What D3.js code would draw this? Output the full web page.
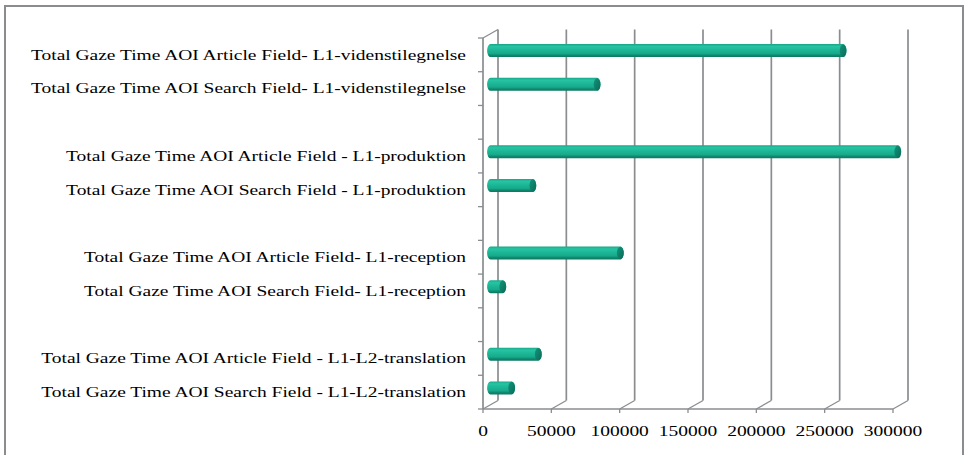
<!DOCTYPE html>
<html>
<head>
<meta charset="utf-8">
<script src="https://cdn.jsdelivr.net/npm/d3@7"></script>
<style>
  body { margin: 0; background: #fff; }
  svg { display: block; }
  text { font-family: "Liberation Serif", "Times New Roman", serif; fill: #000; }
</style>
</head>
<body>
<svg id="chart"></svg>
<script>
// categories top to bottom, blank entries are the spacer rows between groups
const categories = [
    'Total Gaze Time AOI Article Field- L1-videnstilegnelse',
    'Total Gaze Time AOI Search Field- L1-videnstilegnelse',
    '',
    'Total Gaze Time AOI Article Field - L1-produktion',
    'Total Gaze Time AOI Search Field - L1-produktion',
    ' ',
    'Total Gaze Time AOI Article Field- L1-reception',
    'Total Gaze Time AOI Search Field- L1-reception',
    '  ',
    'Total Gaze Time AOI Article Field - L1-L2-translation',
    'Total Gaze Time AOI Search Field - L1-L2-translation'
];
const values = [258000, 78000, null, 298000, 31000, null, 95000, 9000, null, 35000, 15500];
const xTicks = [0, 50000, 100000, 150000, 200000, 250000, 300000];

const config = {
    width: 966,
    height: 455,
    plot: { left: 483, right: 893, top: 38, bottom: 409 },
    depth: { dx: 15, dy: -8.5 },
    barHeight: 13,
    capRx: 3.4,
    fontSize: 14,
    textStretch: 1.39,   // the original text is rendered wide
    gridColour: '#8a8d90',
    frameColour: '#8a8d90'
};

const svg = d3.select('#chart')
    .attr('width', config.width)
    .attr('height', config.height);

const dx = config.depth.dx, dy = config.depth.dy;

const xScale = d3.scaleLinear()
    .domain([0, 300000])
    .range([config.plot.left, config.plot.right]);

const yScale = d3.scaleBand()
    .domain(categories)
    .range([config.plot.top, config.plot.bottom]);

// gradient for the cylinder body
const defs = svg.append('defs');
const grad = defs.append('linearGradient')
    .attr('id', 'cyl')
    .attr('x1', 0).attr('y1', 0).attr('x2', 0).attr('y2', 1);
grad.append('stop').attr('offset', '0%').attr('stop-color', '#17a788');
grad.append('stop').attr('offset', '18%').attr('stop-color', '#27c3a3');
grad.append('stop').attr('offset', '45%').attr('stop-color', '#1cb796');
grad.append('stop').attr('offset', '72%').attr('stop-color', '#17a98a');
grad.append('stop').attr('offset', '85%').attr('stop-color', '#0f8a71');
grad.append('stop').attr('offset', '100%').attr('stop-color', '#0b7762');

const capGrad = defs.append('linearGradient')
    .attr('id', 'cap')
    .attr('x1', 0).attr('y1', 0).attr('x2', 1).attr('y2', 1);
capGrad.append('stop').attr('offset', '0%').attr('stop-color', '#13937a');
capGrad.append('stop').attr('offset', '100%').attr('stop-color', '#0a6b58');

// outer frame (bottom edge sits below the window)
svg.append('rect')
    .attr('x', 5).attr('y', 6)
    .attr('width', 958).attr('height', 460)
    .attr('fill', 'none')
    .attr('stroke', config.frameColour)
    .attr('stroke-width', 2);

// back wall grid lines
const grid = svg.append('g').attr('class', 'grid');
grid.selectAll('line')
    .data(xTicks)
    .join('line')
    .attr('x1', d => xScale(d) + dx)
    .attr('x2', d => xScale(d) + dx)
    .attr('y1', config.plot.top + dy)
    .attr('y2', config.plot.bottom + dy)
    .attr('stroke', config.gridColour)
    .attr('stroke-width', 1.7);

// floor diagonals from front ticks to the back wall
grid.selectAll('.floor')
    .data(xTicks)
    .join('line')
    .attr('class', 'floor')
    .attr('x1', d => xScale(d))
    .attr('x2', d => xScale(d) + dx)
    .attr('y1', config.plot.bottom)
    .attr('y2', config.plot.bottom + dy)
    .attr('stroke', config.gridColour)
    .attr('stroke-width', 1.3);

// side wall top edge
grid.append('line')
    .attr('x1', xScale(0)).attr('y1', config.plot.top)
    .attr('x2', xScale(0) + dx).attr('y2', config.plot.top + dy)
    .attr('stroke', config.gridColour)
    .attr('stroke-width', 1.3);

// bars as cylinders
const barData = categories.map((c, i) => ({ cat: c, value: values[i] }))
    .filter(d => d.value !== null);

const bars = svg.append('g').attr('class', 'bars')
    .selectAll('g')
    .data(barData)
    .join('g');

const barY = d => yScale(d.cat) + yScale.bandwidth() / 2 + dy / 2;
const x0 = xScale(0) + dx / 2;
const h = config.barHeight;
const rx = config.capRx;

bars.append('path')
    .attr('d', d => {
        const x1 = xScale(d.value) + dx / 2;
        const cy = barY(d);
        const top = cy - h / 2, bot = cy + h / 2;
        return `M${x0},${top} L${x1},${top} A${rx},${h / 2} 0 0 1 ${x1},${bot} ` +
               `L${x0},${bot} A${rx},${h / 2} 0 0 1 ${x0},${top} Z`;
    })
    .attr('fill', 'url(#cyl)');

bars.append('ellipse')
    .attr('cx', d => xScale(d.value) + dx / 2)
    .attr('cy', d => barY(d))
    .attr('rx', rx)
    .attr('ry', h / 2 - 0.3)
    .attr('fill', 'url(#cap)');

// front axes
const axisG = svg.append('g').attr('class', 'axes');

axisG.append('line')
    .attr('x1', xScale(0)).attr('x2', xScale(0))
    .attr('y1', config.plot.top).attr('y2', config.plot.bottom)
    .attr('stroke', config.gridColour)
    .attr('stroke-width', 1.7);

axisG.append('line')
    .attr('x1', xScale(0)).attr('x2', xScale(300000))
    .attr('y1', config.plot.bottom).attr('y2', config.plot.bottom)
    .attr('stroke', config.gridColour)
    .attr('stroke-width', 1.7);

// category ticks at band boundaries
const bounds = categories.map(c => yScale(c)).concat([config.plot.bottom]);
axisG.selectAll('.ytick')
    .data(bounds)
    .join('line')
    .attr('class', 'ytick')
    .attr('x1', xScale(0) - 5).attr('x2', xScale(0))
    .attr('y1', d => d).attr('y2', d => d)
    .attr('stroke', config.gridColour)
    .attr('stroke-width', 1.3);

axisG.selectAll('.xtick')
    .data(xTicks)
    .join('line')
    .attr('class', 'xtick')
    .attr('x1', d => xScale(d)).attr('x2', d => xScale(d))
    .attr('y1', config.plot.bottom).attr('y2', config.plot.bottom + 4)
    .attr('stroke', config.gridColour)
    .attr('stroke-width', 1.3);

// labels, stretched horizontally like the source
const s = config.textStretch;

svg.append('g').attr('class', 'ylabels')
    .selectAll('text')
    .data(categories.filter(c => c.trim() !== ''))
    .join('text')
    .attr('transform', d => `translate(466,${yScale(d) + yScale.bandwidth() / 2}) scale(${s},1)`)
    .attr('dy', '0.35em')
    .attr('text-anchor', 'end')
    .attr('font-size', config.fontSize + 'px')
    .text(d => d);

svg.append('g').attr('class', 'xlabels')
    .selectAll('text')
    .data(xTicks)
    .join('text')
    .attr('transform', d => `translate(${xScale(d)},431) scale(${s},1)`)
    .attr('dy', '0.35em')
    .attr('text-anchor', 'middle')
    .attr('font-size', config.fontSize + 'px')
    .text(d => d);
</script>
</body>
</html>
